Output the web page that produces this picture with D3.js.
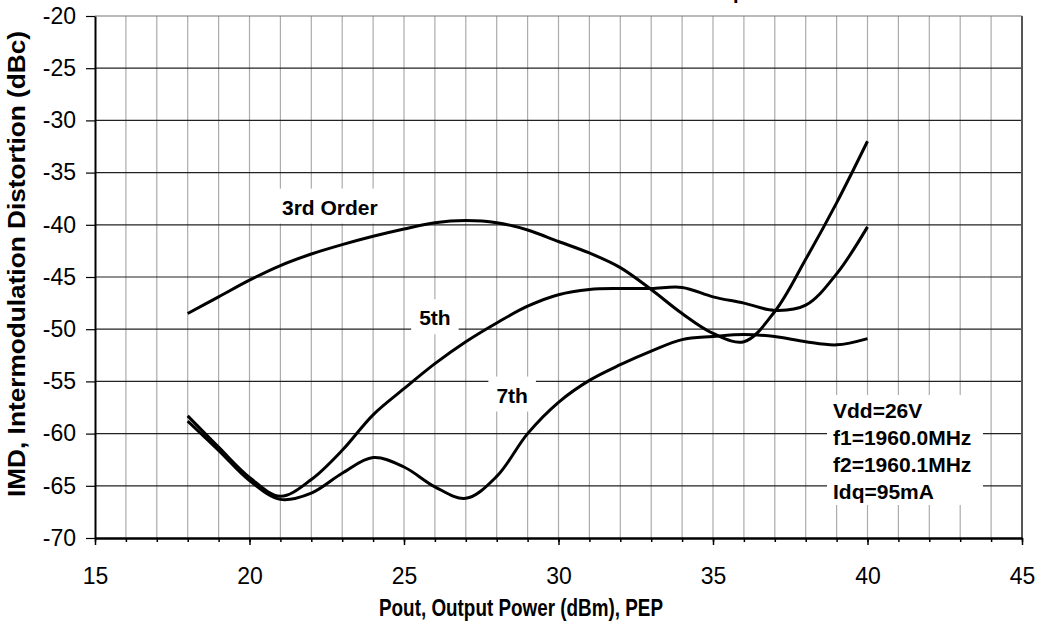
<!DOCTYPE html>
<html>
<head>
<meta charset="utf-8">
<script src="https://cdn.jsdelivr.net/npm/d3@7"></script>
<style>
  html, body { margin: 0; padding: 0; background: #fff; }
  svg { display: block; font-family: Arial, "Liberation Sans", sans-serif; }
</style>
</head>
<body>
<div id="chart"></div>
<script>
(function () {
    "use strict";

    const WIDTH = 1043;
    const HEIGHT = 628;
    const LEFT = 95, RIGHT = 1022, TOP = 16, BOTTOM = 538;

    /* ---- data ---- */
    const pout = [18, 19, 20, 21, 22, 23, 24, 25, 26, 27, 28, 29, 30, 31, 32, 33, 34, 35, 36, 37, 38, 39, 40];
    const imd3 = [-48.5, -46.9, -45.3, -43.9, -42.8, -41.9, -41.1, -40.4, -39.8, -39.6, -39.8, -40.5,
                  -41.6, -42.7, -44.1, -46.2, -48.5, -50.4, -51.2, -48.3, -43.3, -37.9, -32.0];
    const imd5 = [-58.3, -61.3, -64.2, -66.0, -64.4, -61.6, -58.2, -55.7, -53.3, -51.2, -49.4, -47.8,
                  -46.7, -46.2, -46.1, -46.1, -46.0, -46.9, -47.5, -48.2, -47.7, -44.7, -40.2];
    const imd7 = [-58.8, -61.6, -64.5, -66.3, -65.7, -63.8, -62.3, -63.2, -65.1, -66.2, -64.1, -60.0,
                  -57.0, -54.9, -53.4, -52.1, -51.0, -50.7, -50.5, -50.7, -51.2, -51.5, -50.9];

    const seriesNames = ["3rd Order", "5th", "7th"];
    const labelPos = [[22.6, -38.3], [26.0, -48.9], [28.5, -56.3]];   /* label centre, data units */

    const xTicks = [15, 20, 25, 30, 35, 40, 45];
    const yTicks = [-70, -65, -60, -55, -50, -45, -40, -35, -30, -25, -20];
    const notes = ["Vdd=26V", "f1=1960.0MHz", "f2=1960.1MHz", "Idq=95mA"];

    const TITLE = "Intermodulation Distortion Products vs. Output Power";
    const X_TITLE = "Pout, Output Power (dBm), PEP";
    const Y_TITLE = "IMD, Intermodulation Distortion (dBc)";

    const svg = d3.select("#chart").append("svg")
        .attr("width", WIDTH).attr("height", HEIGHT);

    const x = d3.scaleLinear().domain([15, 45]).range([LEFT, RIGHT]);
    const y = d3.scaleLinear().domain([-70, -20]).range([BOTTOM, TOP]);

    /* ---- grid ---- */
    svg.append("g").selectAll("line")
        .data(d3.range(16, 45))
        .enter().append("line")
        .attr("x1", function (d) { return x(d); }).attr("x2", function (d) { return x(d); })
        .attr("y1", TOP).attr("y2", BOTTOM)
        .attr("stroke", "#ababab").attr("stroke-width", 1.2);

    svg.append("g").selectAll("line")
        .data(yTicks.slice(1))
        .enter().append("line")
        .attr("x1", LEFT).attr("x2", RIGHT)
        .attr("y1", function (d) { return y(d); }).attr("y2", function (d) { return y(d); })
        .attr("stroke", function (d) { return d === -20 ? "#777" : "#222"; })
        .attr("stroke-width", 1.2);

    svg.append("line")
        .attr("x1", RIGHT).attr("x2", RIGHT).attr("y1", TOP).attr("y2", BOTTOM)
        .attr("stroke", "#555").attr("stroke-width", 2);

    /* ---- label boxes + text ---- */
    const gLabels = svg.append("g")
        .attr("font-weight", "bold").attr("font-size", "21px");

    labelPos.forEach(function (p, i) {
        const t = gLabels.append("text")
            .attr("x", x(p[0])).attr("y", y(p[1]))
            .attr("text-anchor", "middle")
            .attr("dy", "0.36em")
            .text(seriesNames[i]);
        const bb = t.node().getBBox();
        gLabels.insert("rect", "text")
            .attr("x", bb.x - 8).attr("y", bb.y - 7)
            .attr("width", bb.width + 16).attr("height", bb.height + 12)
            .attr("fill", "#fff");
    });

    /* conditions box */
    const gNotes = svg.append("g")
        .attr("font-weight", "bold").attr("font-size", "21px");
    gNotes.append("rect")
        .attr("x", 827).attr("y", 395).attr("width", 156).attr("height", 110)
        .attr("fill", "#fff");
    gNotes.selectAll("text")
        .data(notes)
        .enter().append("text")
        .attr("x", 833)
        .attr("y", function (d, i) { return 417.5 + i * 27; })
        .text(function (d) { return d; });

    /* ---- curves ---- */
    const line = d3.line()
        .x(function (d) { return x(d[0]); })
        .y(function (d) { return y(d[1]); })
        .curve(d3.curveCatmullRom.alpha(0.5));

    [imd3, imd5, imd7].forEach(function (vals) {
        svg.append("path")
            .datum(pout.map(function (p, i) { return [p, vals[i]]; }))
            .attr("d", line)
            .attr("fill", "none")
            .attr("stroke", "#000")
            .attr("stroke-width", 3)
            .attr("stroke-linejoin", "round");
    });

    /* ---- axes ---- */
    const plain = function (d) { return String(d); };   /* keep ASCII hyphen, not U+2212 */

    const gx = svg.append("g").attr("transform", "translate(0," + BOTTOM + ")");
    gx.call(d3.axisBottom(x).tickValues(d3.range(15, 46)).tickSize(4).tickSizeOuter(0).tickFormat(""));
    gx.append("g").call(d3.axisBottom(x).tickValues(xTicks).tickSize(7).tickSizeOuter(0)
        .tickPadding(23).tickFormat(plain));
    gx.selectAll("path.domain").attr("stroke", "#000").attr("stroke-width", 2);
    gx.selectAll("line").attr("stroke", "#000").attr("stroke-width", 1.5);
    gx.selectAll("text").attr("font-size", "23px").attr("font-family", null).attr("fill", "#000");

    const gy = svg.append("g").attr("transform", "translate(" + LEFT + ",0)");
    gy.call(d3.axisLeft(y).tickValues(yTicks).tickSize(9).tickSizeOuter(0).tickPadding(10).tickFormat(plain));
    gy.select("path.domain").attr("stroke", "#000").attr("stroke-width", 2);
    gy.selectAll("line").attr("stroke", "#000").attr("stroke-width", 1.2);
    gy.selectAll("text").attr("font-size", "23px").attr("font-family", null).attr("fill", "#000");

    /* ---- titles ---- */
    svg.append("text")
        .attr("x", 521).attr("y", 616)
        .attr("text-anchor", "middle")
        .attr("font-weight", "bold").attr("font-size", "23px")
        .attr("textLength", 284).attr("lengthAdjust", "spacingAndGlyphs")
        .text(X_TITLE);

    svg.append("text")
        .attr("transform", "translate(25,264) rotate(-90)")
        .attr("text-anchor", "middle")
        .attr("font-weight", "bold").attr("font-size", "23px")
        .attr("textLength", 466).attr("lengthAdjust", "spacingAndGlyphs")
        .text(Y_TITLE);

    /* chart title sits above the page edge; only the tail of the "p" shows */
    const title = svg.append("text")
        .attr("y", -1)
        .attr("font-weight", "bold").attr("font-size", "20px")
        .text(TITLE);
    const pIdx = TITLE.indexOf("Output") + 3;
    const before = title.node().getSubStringLength(0, pIdx);
    title.attr("x", 733 - before);
})();
</script>
</body>
</html>
